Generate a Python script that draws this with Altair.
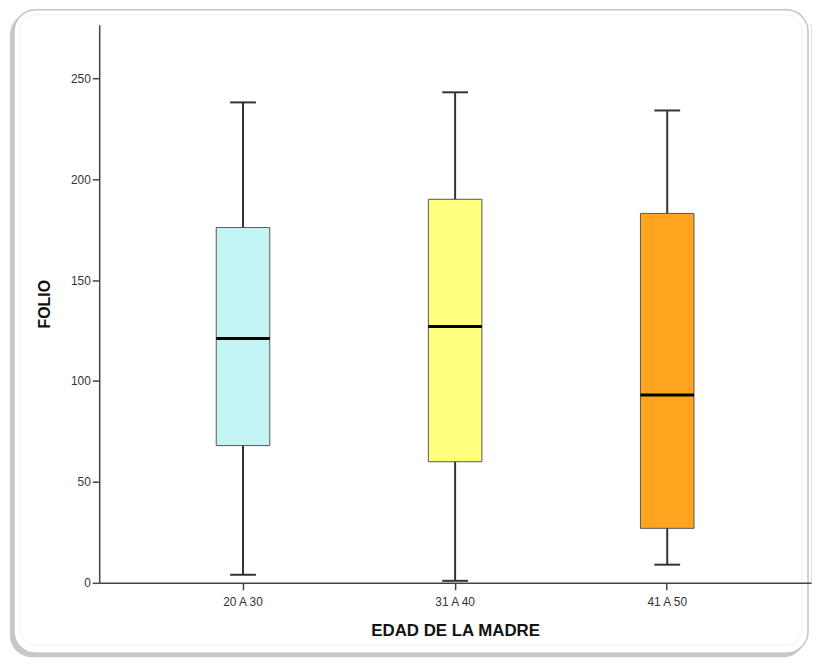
import altair as alt
import pandas as pd

categories = ["20 A 30", "31 A 40", "41 A 50"]
whisker_low = [4, 1, 9]
q1 = [68, 60, 27]
median = [121, 127, 93]
q3 = [176, 190, 183]
whisker_high = [238, 243, 234]
colors = ["#c3f5f5", "#ffff80", "#ffa41f"]
y_ticks = [0, 50, 100, 150, 200, 250]

df = pd.DataFrame({
    "cat": categories,
    "lo": whisker_low,
    "q1": q1,
    "med": median,
    "q3": q3,
    "hi": whisker_high,
})

FONT = "Liberation Sans"

x = alt.X(
    "cat:N",
    sort=categories,
    scale=alt.Scale(paddingInner=0, paddingOuter=0.178),
    axis=alt.Axis(
        title="EDAD DE LA MADRE",
        labelAngle=0,
        labelFont=FONT,
        labelFontSize=12,
        labelColor="#333333",
        labelPadding=7,
        tickSize=7,
        tickColor="#444444",
        domainColor="#444444",
        domainWidth=1.5,
        tickWidth=1.5,
        titleFont=FONT,
        titleFontSize=17,
        titleFontWeight="bold",
        titleColor="#111111",
        titlePadding=15,
        grid=False,
        zindex=2,
    ),
)

yscale = alt.Scale(domain=[0, 276.5], nice=False, zero=True)
yaxis = alt.Axis(
    title="FOLIO",
    values=y_ticks,
    labelFont=FONT,
    labelFontSize=12,
    labelColor="#333333",
    labelPadding=2,
    tickSize=7,
    tickColor="#444444",
    tickWidth=1.5,
    domainColor="#444444",
    domainWidth=1.5,
    titleFont=FONT,
    titleFontSize=16,
    titleFontWeight="bold",
    titleColor="#111111",
    titlePadding=18,
    grid=False,
    zindex=2,
)

base = alt.Chart(df)

frame_df = pd.DataFrame({"k": [0]})
shadow = alt.Chart(frame_df).mark_rect(
    cornerRadius=22, fill="#9a9a9a", opacity=0.55
).encode(
    x=alt.value(-90), x2=alt.value(712), y=alt.value(-12), y2=alt.value(638)
)
frame = alt.Chart(frame_df).mark_rect(
    cornerRadius=22, fill="#ffffff", stroke="#c4c4c4", strokeWidth=1.5
).encode(
    x=alt.value(-86), x2=alt.value(715), y=alt.value(-15), y2=alt.value(634)
)
inner = alt.Chart(frame_df).mark_rect(
    cornerRadius=16, fill="#ffffff", stroke="#f0f0f0", strokeWidth=1
).encode(
    x=alt.value(-80), x2=alt.value(709), y=alt.value(-10), y2=alt.value(626)
)

whisker = base.mark_rule(color="#333333", strokeWidth=2).encode(
    x=x,
    y=alt.Y("lo:Q", scale=yscale, axis=yaxis),
    y2="hi:Q",
)

box = base.mark_bar(size=54, stroke="#555555", strokeWidth=1).encode(
    x=x,
    y=alt.Y("q1:Q", scale=yscale, axis=yaxis),
    y2="q3:Q",
    color=alt.Color("cat:N", scale=alt.Scale(domain=categories, range=colors), legend=None),
)

med = base.mark_tick(size=54, thickness=3, color="#000000", opacity=1).encode(
    x=x, y=alt.Y("med:Q", scale=yscale, axis=yaxis)
)

cap_lo = base.mark_tick(size=26, thickness=2, color="#333333", opacity=1).encode(
    x=x, y=alt.Y("lo:Q", scale=yscale, axis=yaxis)
)
cap_hi = base.mark_tick(size=26, thickness=2, color="#333333", opacity=1).encode(
    x=x, y=alt.Y("hi:Q", scale=yscale, axis=yaxis)
)

chart = alt.layer(shadow, frame, inner, whisker, box, med, cap_lo, cap_hi).properties(
    width=718,
    height=563,
    autosize=alt.AutoSizeParams(type="none"),
    padding={"left": 92, "top": 14, "right": 4, "bottom": 74},
).configure_view(stroke=None).configure(background="#ffffff")

chart.save("out.html", embed_options={"renderer": "svg", "actions": False})
